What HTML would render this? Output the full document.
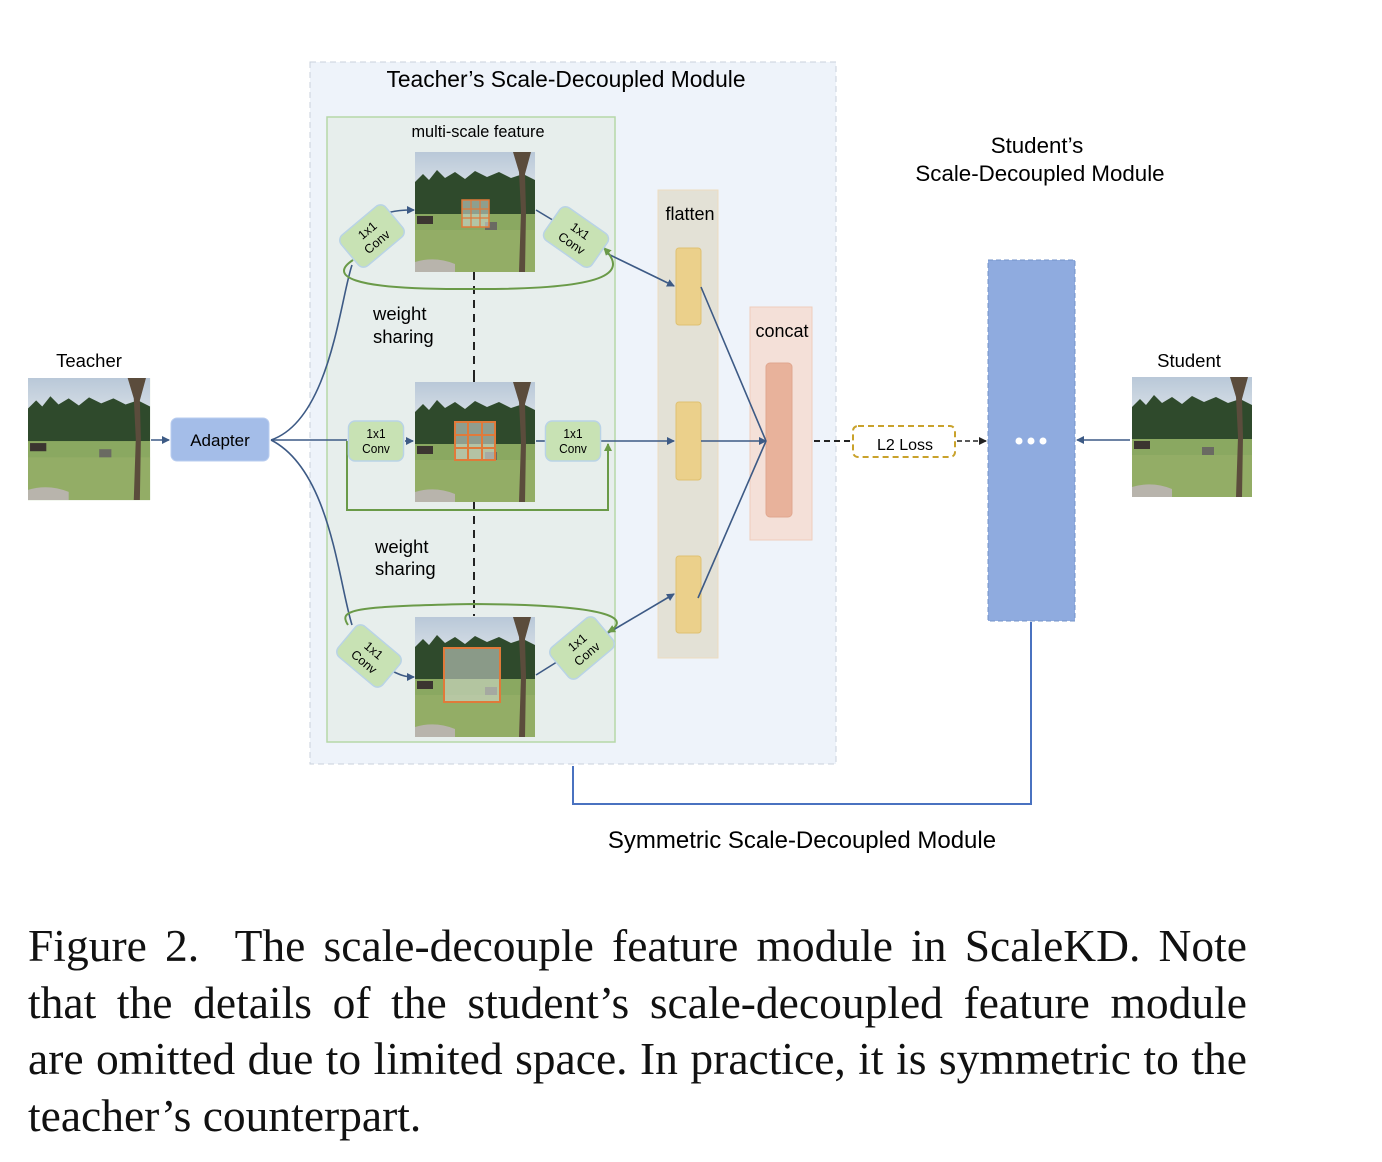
<!DOCTYPE html>
<html><head><meta charset="utf-8"><style>
body{margin:0;background:#fff;width:1382px;height:1162px;overflow:hidden;font-family:"Liberation Sans",sans-serif}
.cap{position:absolute;left:28px;width:1219px;font-family:"Liberation Serif",serif;font-size:45.5px;line-height:56.5px;color:#111;top:918px}
.cap span{display:block;text-align:justify;text-align-last:justify;white-space:nowrap}
.cap div{text-align:left;text-align-last:left}
</style></head><body>
<svg width="1382" height="900" style="position:absolute;left:0;top:0" font-family="Liberation Sans, sans-serif">
<defs>
<linearGradient id="sky" x1="0" y1="0" x2="0" y2="1"><stop offset="0" stop-color="#b9c8d8"/><stop offset="1" stop-color="#dfe5ea"/></linearGradient>
<g id="img">
<rect width="120" height="120" fill="#86a35a"/>
<rect width="120" height="45" fill="url(#sky)"/>
<path d="M0 30 L8 22 L14 28 L22 18 L30 26 L40 20 L50 27 L60 19 L72 25 L84 20 L96 26 L108 22 L120 28 L120 62 L0 64Z" fill="#2f4a2c"/>
<rect y="62" width="120" height="58" fill="#8aa861"/>
<rect y="78" width="120" height="42" fill="#93ad66"/>
<path d="M0 110 Q20 104 40 112 L40 120 L0 120Z" fill="#b8b4ac"/>
<path d="M98 0 L104 20 L106 60 L104 120 L110 120 L111 60 L110 22 L116 0" fill="#5b4c3c"/>
<rect x="2" y="64" width="16" height="8" fill="#3b3530"/>
<rect x="70" y="70" width="12" height="8" fill="#6a6a62"/>
</g>
<marker id="ab" markerWidth="8" markerHeight="8" refX="7" refY="4" orient="auto" markerUnits="userSpaceOnUse"><path d="M0 0 L8 4 L0 8 Z" fill="#3d5a85"/></marker>
<marker id="ag" markerWidth="8" markerHeight="8" refX="7" refY="4" orient="auto" markerUnits="userSpaceOnUse"><path d="M0 0 L8 4 L0 8 Z" fill="#6a9a48"/></marker>
<marker id="ak" markerWidth="8" markerHeight="8" refX="7" refY="4" orient="auto" markerUnits="userSpaceOnUse"><path d="M0 0 L8 4 L0 8 Z" fill="#222"/></marker>
<g id="conv"><rect x="-29" y="-20" width="58" height="40" rx="7" fill="#c8e2b4" stroke="#b9d3e6" stroke-width="1.5"/><text y="-3" font-size="12.5" text-anchor="middle">1x1</text><text y="12" font-size="12.5" text-anchor="middle">Conv</text></g>
</defs>
<rect x="310" y="62" width="526" height="702" fill="#eef3fa" stroke="#c9d1dc" stroke-dasharray="6 4"/>
<text x="566" y="87" font-size="22.8" text-anchor="middle">Teacher’s Scale-Decoupled Module</text>
<rect x="327" y="117" width="288" height="625" fill="#e7eeec" stroke="#b6d8a8" stroke-width="1.5"/>
<text x="478" y="137" font-size="16.3" text-anchor="middle">multi-scale feature</text>
<use href="#img" x="415" y="152"/>
<use href="#img" x="415" y="382"/>
<use href="#img" x="415" y="617"/>
<use href="#img" x="28" y="378" transform="translate(28 378) scale(1.017) translate(-28 -378)"/>
<use href="#img" x="1132" y="377"/>
<g fill="#cfd8d0" fill-opacity="0.6" stroke="#e07a3a" stroke-width="1.5"><rect x="462" y="200" width="27" height="27"/></g>
<path d="M471 200V227M480 200V227M462 209H489M462 218H489" stroke="#e07a3a" stroke-width="1.2"/>
<rect x="455" y="422" width="40" height="38" fill="#d0d6d0" fill-opacity="0.6" stroke="#e07a3a" stroke-width="2"/>
<path d="M468 422V460M482 422V460M455 435H495M455 448H495" stroke="#e07a3a" stroke-width="2"/>
<rect x="444" y="648" width="56" height="54" fill="#d6dcd6" fill-opacity="0.55" stroke="#e07a3a" stroke-width="2"/>
<path d="M474 382V372M474 272V380M474 502V616" stroke="#222" stroke-width="2" stroke-dasharray="8 6"/>
<text x="373" y="320" font-size="18.5">weight</text><text x="373" y="343" font-size="18.5">sharing</text>
<text x="375" y="553" font-size="18.5">weight</text><text x="375" y="575" font-size="18.5">sharing</text>
<rect x="658" y="190" width="60" height="468" fill="#e3e1d6" stroke="#ecdcc0"/>
<text x="690" y="220" font-size="18" text-anchor="middle">flatten</text>
<g fill="#ebd08b" stroke="#dfc171"><rect x="676" y="248" width="25" height="77" rx="3"/><rect x="676" y="402" width="25" height="78" rx="3"/><rect x="676" y="556" width="25" height="77" rx="3"/></g>
<rect x="750" y="307" width="62" height="233" fill="#f4e0d8" stroke="#efcdbc"/>
<text x="782" y="337" font-size="18" text-anchor="middle">concat</text>
<rect x="766" y="363" width="26" height="154" rx="4" fill="#e8b29b" stroke="#e0a78f"/>
<text x="1037" y="153" font-size="22.3" text-anchor="middle">Student’s</text>
<text x="1040" y="181" font-size="22.3" text-anchor="middle">Scale-Decoupled Module</text>
<text x="89" y="367" font-size="18.5" text-anchor="middle">Teacher</text>
<text x="1189" y="367" font-size="18.5" text-anchor="middle">Student</text>
<rect x="988" y="260" width="87" height="361" fill="#8fabdf" stroke="#7393c9" stroke-dasharray="5 3"/>
<circle cx="1019" cy="441" r="3.5" fill="#fff"/><circle cx="1031" cy="441" r="3.5" fill="#fff"/><circle cx="1043" cy="441" r="3.5" fill="#fff"/>
<rect x="853" y="426" width="102" height="31" rx="5" fill="#fff" stroke="#c9a22b" stroke-width="2" stroke-dasharray="6 4"/>
<text x="905" y="450" font-size="16" text-anchor="middle">L2 Loss</text>
<path d="M814 441H851" stroke="#222" stroke-width="2" stroke-dasharray="6 4"/>
<path d="M957 441H986" stroke="#222" stroke-width="1.5" stroke-dasharray="5 3" marker-end="url(#ak)"/>
<path d="M1130 440H1077" stroke="#3d5a85" stroke-width="1.5" marker-end="url(#ab)"/>
<path d="M573 766V804H1031V622" fill="none" stroke="#4a72c0" stroke-width="2"/>
<text x="802" y="848" font-size="24" text-anchor="middle">Symmetric Scale-Decoupled Module</text>
<rect x="171" y="418" width="98" height="43" rx="6" fill="#a4bde8" stroke="#b9cdef"/>
<text x="220" y="446" font-size="17" text-anchor="middle">Adapter</text>
<g fill="none" stroke="#3d5a85" stroke-width="1.6">
<path d="M151 440H169" marker-end="url(#ab)"/>
<path d="M271 440H347"/>
<path d="M271 440 C330 420 340 300 352 265"/>
<path d="M271 440 C330 470 338 580 352 625"/>
<path d="M405 441H413" marker-end="url(#ab)"/>
<path d="M380 215 C395 210 405 210 414 210" marker-end="url(#ab)"/>
<path d="M390 670 C400 675 405 677 414 677" marker-end="url(#ab)"/>
<path d="M536 210 L556 222"/>
<path d="M536 675 L560 660"/>
<path d="M536 441H546"/>
<path d="M601 441H674" marker-end="url(#ab)"/>
<path d="M606 253 L674 286" marker-end="url(#ab)"/>
<path d="M608 633 L674 594" marker-end="url(#ab)"/>
<path d="M701 287 L766 441"/>
<path d="M701 441 L766 441" marker-end="url(#ab)"/>
<path d="M698 598 L766 441"/>
</g>
<g fill="none" stroke="#6a9a48" stroke-width="2">
<path d="M353 260 C330 275 345 290 470 289 C620 290 625 270 604 248" marker-end="url(#ag)"/>
<path d="M347 441V510H608V444" marker-end="url(#ag)"/>
<path d="M348 625 C338 610 350 606 474 604 C620 605 630 620 608 632" marker-end="url(#ag)"/>
</g>
<g transform="translate(372 236) rotate(-40)"><use href="#conv"/></g>
<g transform="translate(576 237) rotate(35)"><use href="#conv"/></g>
<g transform="translate(376 441)"><use href="#conv" transform="scale(0.95 1)"/></g>
<g transform="translate(573 441)"><use href="#conv" transform="scale(0.95 1)"/></g>
<g transform="translate(369 656) rotate(40)"><use href="#conv"/></g>
<g transform="translate(582 648) rotate(-40)"><use href="#conv"/></g>
</svg>
<div class="cap"><span>Figure 2.&nbsp; The scale-decouple feature module in ScaleKD. Note</span><span>that the details of the student’s scale-decoupled feature module</span><span>are omitted due to limited space. In practice, it is symmetric to the</span><div>teacher’s counterpart.</div></div>
</body></html>
